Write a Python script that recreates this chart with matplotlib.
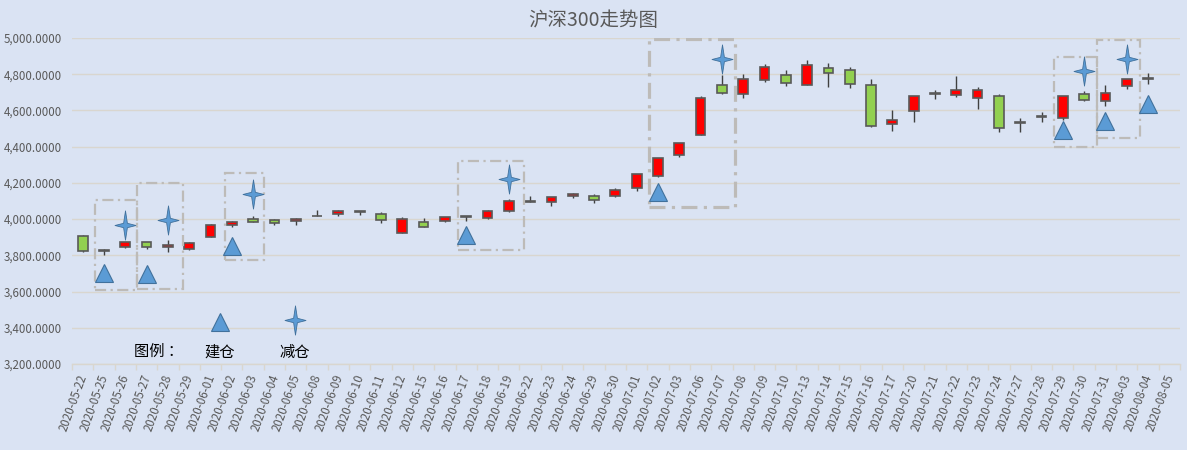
import numpy as np
import matplotlib
matplotlib.use("Agg")
import matplotlib.pyplot as plt
from matplotlib.patches import Rectangle
from matplotlib.path import Path
from matplotlib.transforms import ScaledTranslation

plt.rcParams['font.family'] = ['Noto Sans CJK SC', 'DejaVu Sans']

dates = [
    "2020-05-22", "2020-05-25", "2020-05-26", "2020-05-27", "2020-05-28", "2020-05-29",
    "2020-06-01", "2020-06-02", "2020-06-03", "2020-06-04", "2020-06-05", "2020-06-08",
    "2020-06-09", "2020-06-10", "2020-06-11", "2020-06-12", "2020-06-15", "2020-06-16",
    "2020-06-17", "2020-06-18", "2020-06-19", "2020-06-22", "2020-06-23", "2020-06-24",
    "2020-06-29", "2020-06-30", "2020-07-01", "2020-07-02", "2020-07-03", "2020-07-06",
    "2020-07-07", "2020-07-08", "2020-07-09", "2020-07-10", "2020-07-13", "2020-07-14",
    "2020-07-15", "2020-07-16", "2020-07-17", "2020-07-20", "2020-07-21", "2020-07-22",
    "2020-07-23", "2020-07-24", "2020-07-27", "2020-07-28", "2020-07-29", "2020-07-30",
    "2020-07-31", "2020-08-03", "2020-08-04", "2020-08-05",
]

nan = np.nan
opens = [3908, 3829, 3846, 3874, 3846, 3835, 3901, 3967, 4000, 3995, 3989, 4016,
         4027, 4043, 4027, 3926, 3984, 3992, 4015, 4005, 4043, 4096, 4092, 4126,
         4127, 4125, 4170, 4236, 4354, 4465, 4741, 4691, 4768, 4796, 4741, 4834,
         4823, 4741, 4526, 4597, 4692, 4686, 4669, 4680, 4532, 4564, 4559, 4691,
         4652, 4735, 4775, nan]
highs = [3910, 3834, 3876, 3875, 3885, 3876, 3974, 3989, 4018, 3998, 4004, 4050,
         4051, 4046, 4040, 4011, 4005, 4013, 4018, 4048, 4111, 4127, 4122, 4142,
         4138, 4171, 4249, 4340, 4422, 4680, 4796, 4801, 4858, 4823, 4880, 4862,
         4840, 4774, 4603, 4682, 4711, 4790, 4730, 4691, 4558, 4592, 4682, 4708,
         4741, 4776, 4807, nan]
lows = [3818, 3800, 3841, 3835, 3819, 3829, 3899, 3956, 3982, 3967, 3965, 4015,
        4018, 4020, 3978, 3921, 3955, 3983, 3990, 4000, 4040, 4095, 4074, 4114,
        4088, 4124, 4157, 4233, 4344, 4463, 4689, 4667, 4755, 4733, 4740, 4730,
        4722, 4510, 4487, 4537, 4663, 4674, 4608, 4481, 4481, 4537, 4546, 4652,
        4625, 4719, 4746, nan]
closes = [3822, 3826, 3874, 3846, 3859, 3870, 3969, 3984, 3984, 3978, 4002, 4019,
          4045, 4040, 3995, 4002, 3956, 4011, 4012, 4045, 4102, 4099, 4120, 4136,
          4107, 4158, 4247, 4338, 4420, 4669, 4697, 4774, 4840, 4753, 4851, 4807,
          4746, 4512, 4548, 4680, 4696, 4713, 4713, 4503, 4536, 4568, 4680, 4658,
          4697, 4774, 4779, nan]

# 建仓 / 减仓 points (date index, price)
buy_idx = [1, 3, 7, 18, 27, 46, 48, 50]
buy_price = [3701, 3695, 3852, 3912, 4150, 4494, 4542, 4634]
sell_idx = [2, 4, 8, 20, 30, 47, 49]
sell_price = [3968, 3996, 4138, 4221, 4886, 4816, 4886]

# highlighted regions: (x0, x1, y0, y1) in date index / price
boxes = [(0.6, 2.55, 3608, 4105), (2.55, 4.7, 3614, 4200), (6.7, 8.5, 3775, 4255),
         (17.6, 20.7, 3829, 4320), (26.6, 30.6, 4067, 4994),
         (45.6, 47.6, 4398, 4895), (47.6, 49.6, 4448, 4988)]

bg = "#DAE3F3"
grid_c = "#D9D6CF"
txt_c = "#595959"

fig = plt.figure(figsize=(11.87, 4.5), dpi=100, facecolor=bg)
ax = fig.add_axes([72 / 1187, 1 - 364 / 450, (1180 - 72) / 1187, (364 - 38) / 450])
ax.set_facecolor(bg)

o = np.array(opens, float)
h = np.array(highs, float)
l = np.array(lows, float)
c = np.array(closes, float)
x = np.arange(len(dates))
ok = ~np.isnan(o)

ax.vlines(x[ok], l[ok], h[ok], color="#404040", lw=1.0, zorder=3)
up = c >= o
colors = np.where(up, "#FF0000", "#92D050")
ax.bar(x[ok], np.abs(c - o)[ok], bottom=np.minimum(o, c)[ok], width=0.46,
       color=colors[ok], edgecolor="#595959", linewidth=1.2, zorder=4)

# star marker (4 points, tall)
sv = [(0, 1), (0.13, 0.15), (0.72, 0), (0.13, -0.15), (0, -1), (-0.13, -0.15),
      (-0.72, 0), (-0.13, 0.15), (0, 1)]
star = Path(sv, [Path.MOVETO] + [Path.LINETO] * 7 + [Path.CLOSEPOLY])

tri_kw = dict(marker="^", ms=13.5, mfc="#5B9BD5", mec="#41719C", mew=0.8,
              ls="none", zorder=6)
star_kw = dict(marker=star, ms=21, mfc="#5B9BD5", mec="#41719C", mew=0.6,
               ls="none", zorder=6)
ax.plot(buy_idx, buy_price, **tri_kw)
ax.plot(sell_idx, sell_price, **star_kw)

dash = (0, (5, 2, 1, 2))
for i, (x0, x1, y0, y1) in enumerate(boxes):
    lw = 2.3 if i == 4 else 1.6
    ax.add_patch(Rectangle((x0, y0), x1 - x0, y1 - y0, fill=False,
                           edgecolor="#BDBBB8", lw=lw, ls=dash, zorder=5))

# legend drawn inside the plot
ax.plot([6.43], [3430], clip_on=False, **tri_kw)
ax.plot([9.95], [3443], clip_on=False, **star_kw)
ax.text(3.57, 3268, "图例 ：", ha="center", va="center", fontsize=11, color="black")
ax.text(6.43, 3266, "建仓", ha="center", va="center", fontsize=11, color="black")
ax.text(9.95, 3266, "减仓", ha="center", va="center", fontsize=11, color="black")

ax.set_xlim(-0.5, len(dates) - 0.5)
ax.set_ylim(3200, 5000)
ax.set_yticks(np.arange(3200, 5001, 200))
ax.yaxis.set_major_formatter(plt.FuncFormatter(lambda v, p: f"{v:,.4f}"))
ax.grid(axis="y", color=grid_c, lw=1.0, zorder=0)
ax.set_axisbelow(True)
for s in ["top", "right", "left"]:
    ax.spines[s].set_visible(False)
ax.spines["bottom"].set_color(grid_c)
ax.spines["bottom"].set_linewidth(1.0)

ax.set_xticks(x)
ax.set_xticklabels(dates, rotation=70, ha="right", fontsize=8.3, color=txt_c)
ax.set_xticks(np.arange(-0.5, len(dates), 1.0), minor=True)
ax.tick_params(axis="x", which="major", length=0, pad=6)
ax.tick_params(axis="x", which="minor", length=4, color=grid_c, width=1.0)
ax.tick_params(axis="y", length=0, pad=7, labelsize=8.3, labelcolor=txt_c)
off = ScaledTranslation(5 / 72, 0, fig.dpi_scale_trans)
for lab in ax.get_xticklabels():
    lab.set_transform(lab.get_transform() + off)

fig.text(0.5, 1 - 21 / 450, "沪深300走势图", ha="center", va="center",
         fontsize=14, color=txt_c)

fig.savefig("out.png", dpi=100, facecolor=bg)
